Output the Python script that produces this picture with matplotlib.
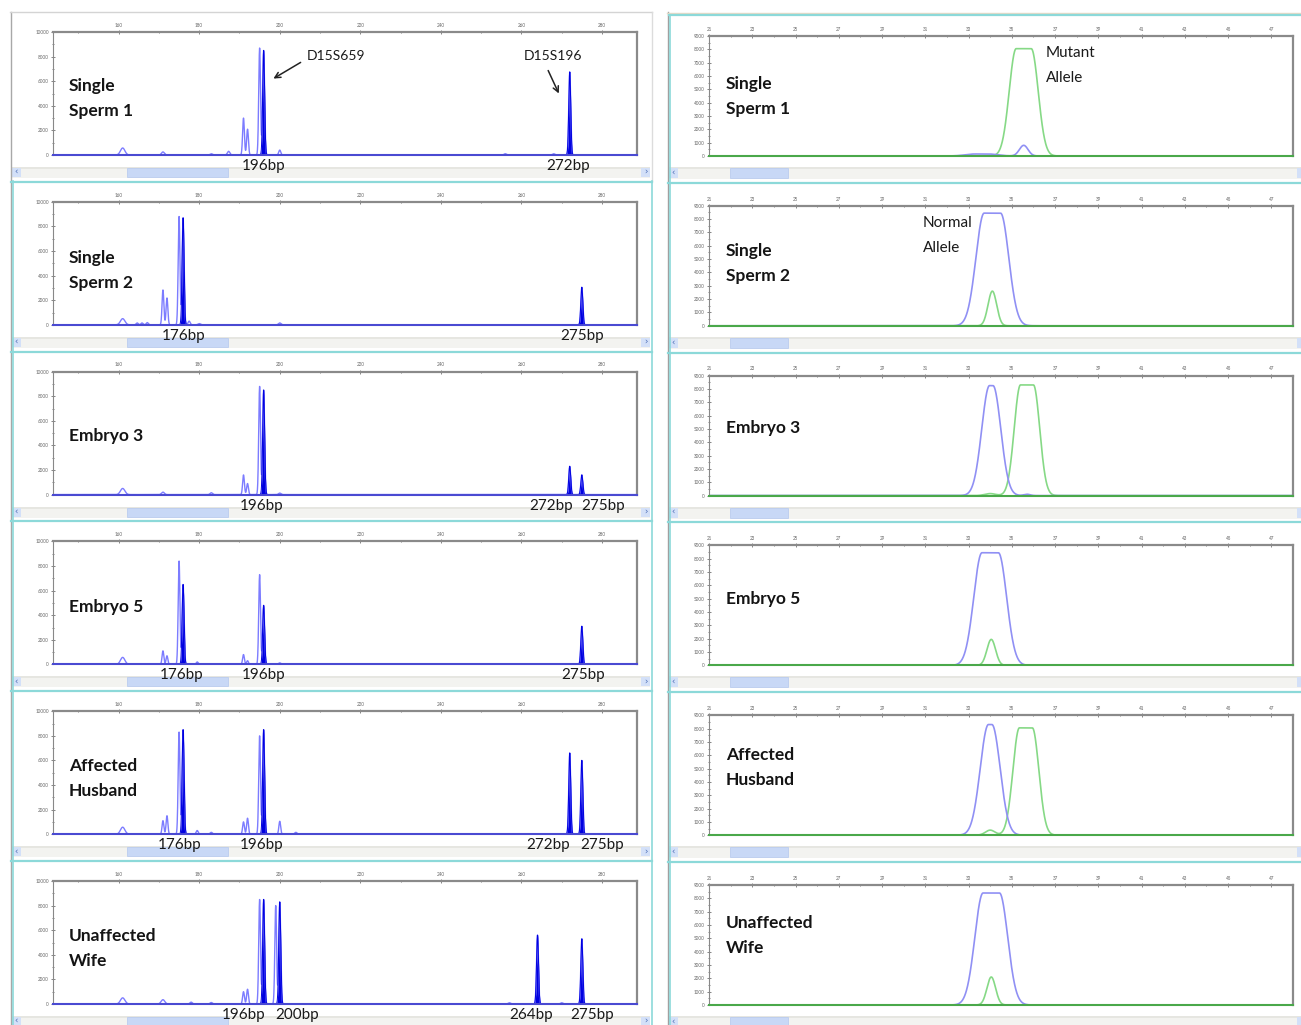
import numpy as np
import matplotlib.pyplot as plt
from matplotlib.patches import Rectangle
from matplotlib.ticker import MultipleLocator

plt.rcParams['font.family'] = ['Lato', 'DejaVu Sans']

# sample names for each row
left_names = ["Single\nSperm 1", "Single\nSperm 2", "Embryo 3", "Embryo 5",
              "Affected\nHusband", "Unaffected\nWife"]
right_names = ["Single\nSperm 1", "Single\nSperm 2", "Embryo 3", "Embryo 5",
               "Affected\nHusband", "Unaffected\nWife"]

# called STR alleles per sample: (size bp, peak height rfu)
str_alleles = [
    [(196, 8500), (272, 6750)],
    [(176, 8700), (275, 3050)],
    [(196, 8500), (272, 2300), (275, 1600)],
    [(176, 6500), (196, 4800), (275, 3100)],
    [(176, 8500), (196, 8500), (272, 6600), (275, 6000)],
    [(196, 8500), (200, 8300), (264, 5600), (275, 5300)],
]

# rest of the raw STR trace: (size bp, height rfu, width bp)
str_trace = [
    [(161, 570, 0.55), (171, 250, 0.35), (183, 100, 0.3), (187.3, 300, 0.3),
     (191, 3000, 0.22), (192, 2100, 0.22), (195, 8700, 0.22), (200, 400, 0.25),
     (256, 100, 0.3), (268, 100, 0.3)],
    [(161, 500, 0.55), (164.6, 150, 0.25), (165.8, 150, 0.25), (167.1, 180, 0.25),
     (171, 2830, 0.22), (172, 2180, 0.22), (175, 8800, 0.22), (177.5, 300, 0.25),
     (180, 100, 0.3), (200, 150, 0.3)],
    [(161, 500, 0.55), (171, 200, 0.35), (183, 150, 0.3), (191, 1600, 0.22),
     (192, 900, 0.22), (195, 8800, 0.22), (200, 120, 0.3)],
    [(161, 570, 0.55), (171, 1100, 0.22), (172, 700, 0.22), (175, 8400, 0.22),
     (179.5, 200, 0.25), (191, 800, 0.22), (192, 300, 0.22), (195, 7300, 0.22),
     (200, 120, 0.3)],
    [(161, 570, 0.55), (171, 1100, 0.22), (172, 1500, 0.22), (175, 8300, 0.22),
     (179.5, 300, 0.25), (183, 150, 0.3), (191, 1000, 0.22), (192, 1300, 0.22),
     (195, 8000, 0.22), (200, 1050, 0.22), (204, 150, 0.3)],
    [(161, 500, 0.55), (171, 350, 0.45), (178, 150, 0.3), (183, 120, 0.3),
     (191, 1000, 0.22), (192, 1200, 0.22), (195, 8500, 0.22), (199, 8000, 0.22),
     (257, 100, 0.3), (270, 100, 0.3)],
]

# SNP melt peaks: (position, height, width, flat top half-width)
snp_blue = [
    [(33.6, 150, 0.45, 0.3), (35.55, 800, 0.2, 0.0)],
    [(34.1, 8450, 0.38, 0.38)],
    [(34.05, 8250, 0.36, 0.08), (35.7, 100, 0.15, 0.0)],
    [(34.0, 8450, 0.38, 0.38)],
    [(34.0, 8300, 0.38, 0.08)],
    [(34.05, 8400, 0.38, 0.38)],
]
snp_green = [
    [(35.55, 8050, 0.32, 0.35)],
    [(34.1, 2600, 0.2, 0.0)],
    [(34.0, 150, 0.25, 0.0), (35.7, 8300, 0.29, 0.3)],
    [(34.05, 1950, 0.2, 0.0)],
    [(34.0, 380, 0.22, 0.0), (35.65, 8050, 0.3, 0.3)],
    [(34.05, 2100, 0.2, 0.0)],
]

# horizontal nudges (px) for the allele size labels
label_nudge = [[0, -2], [1, 0], [-2, -19, 21], [-1, 0, 1], [-3, -2, -22, 20], [-20, 17, -6, 10]]
left_name_y = [86, 258, 436, 607, 766, 936]
right_name_y = [84, 251, 428, 599, 755, 923]

W, H = 1301, 1025
ROW = 169.8
CYAN = '#8cd9d9'


def px_rect(x0, y0, x1, y1):
    return [x0 / W, 1 - y1 / H, (x1 - x0) / W, (y1 - y0) / H]


def peak_shape(x, center, height, width, flat=0.0):
    d = np.maximum(np.abs(x - center) - flat, 0)
    return height * np.exp(-0.5 * (d / width) ** 2)


def style_axes(ax, base_color):
    ax.xaxis.tick_top()
    ax.tick_params(which='both', direction='inout', length=3, width=0.5, color='#555',
                   labelsize=3.3, labelcolor='#666', pad=1.5)
    ax.tick_params(which='minor', length=2)
    ax.spines['left'].set_color('#888')
    ax.spines['left'].set_linewidth(0.8)
    for s in ('top', 'right'):
        ax.spines[s].set_color('#8a8a8a')
        ax.spines[s].set_linewidth(1.6)
    ax.spines['bottom'].set_color(base_color)
    ax.spines['bottom'].set_linewidth(1.5)


fig = plt.figure(figsize=(W / 100, H / 100), dpi=100)
fig.patch.set_facecolor('white')

bg = fig.add_axes([0, 0, 1, 1], zorder=0)
bg.set_xlim(0, W)
bg.set_ylim(H, 0)
bg.axis('off')

fg = fig.add_axes([0, 0, 1, 1], zorder=5)
fg.set_xlim(0, W)
fg.set_ylim(H, 0)
fg.axis('off')
fg.patch.set_visible(False)


def scrollbar(x0, x1, y0, y1, t0, t1):
    bg.add_patch(Rectangle((x0, y0), x1 - x0, y1 - y0, fc='#f3f3f0', ec='none'))
    bg.add_patch(Rectangle((x0, y0), x1 - x0, 2, fc='#e6e6e1', ec='none'))
    bg.add_patch(Rectangle((t0, y0 + 1), t1 - t0, y1 - y0 - 2, fc='#c8d8f6', ec='#b4c8ee', lw=0.5))
    for bx, ch in ((x0, '\u2039'), (x1 - 9, '\u203a')):
        bg.add_patch(Rectangle((bx, y0 + 1), 9, y1 - y0 - 2, fc='#d3e0f8', ec='none'))
        bg.text(bx + 4.5, (y0 + y1) / 2, ch, ha='center', va='center', fontsize=6,
                color='#4a6bb5', family='DejaVu Sans')


# window frames
bg.plot([10.5, 10.5], [12, H], color='#a8a8a8', lw=1)
bg.plot([10, 652], [12, 12], color='#d4d4d4', lw=1)
bg.plot([651.5, 651.5], [12, 181], color='#dcdcdc', lw=1)
bg.plot([651.5, 651.5], [181, H], color=CYAN, lw=1.2)
bg.plot([12.8, 12.8], [181, H], color=CYAN, lw=1.2)
bg.plot([667.5, 667.5], [12, H], color='#a0a0a0', lw=1)
bg.plot([667, W], [12.5, 12.5], color='#e6dac6', lw=1)
bg.plot([669, W], [15, 15], color=CYAN, lw=1.6)
bg.plot([669.8, 669.8], [15, H], color=CYAN, lw=1.2)
for k in range(1, 6):
    bg.plot([11, 652], [12 + k * ROW, 12 + k * ROW], color=CYAN, lw=1.6)
    bg.plot([668, W], [13 + k * ROW, 13 + k * ROW], color=CYAN, lw=1.6)

xs_left = np.linspace(143.7, 288.7, 6000)
xs_right = np.linspace(21, 48, 3000)

for i in range(6):
    off = i * ROW

    # STR electropherogram
    ax = fig.add_axes(px_rect(53, 32 + off, 637, 155 + off), zorder=2)
    ax.set_xlim(143.7, 288.7)
    ax.set_ylim(0, 10000)
    ax.set_xticks(range(160, 281, 20))
    ax.xaxis.set_minor_locator(MultipleLocator(10))
    ax.set_yticks(range(0, 10001, 2000))
    ax.yaxis.set_minor_locator(MultipleLocator(1000))
    style_axes(ax, '#4a4ad2')

    called = np.zeros_like(xs_left)
    for bp, h in str_alleles[i]:
        called += peak_shape(xs_left, bp, h, 0.24)
    raw = called.copy()
    for bp, h, w in str_trace[i]:
        raw += peak_shape(xs_left, bp, h, w)
    ax.plot(xs_left, raw, color='#7c7cff', lw=1.0)
    ax.fill_between(xs_left, 0, called, color='#0000e0', lw=0)
    ax.plot(xs_left, called, color='#0000e0', lw=0.7)

    lines = left_names[i].split('\n')
    y0 = left_name_y[i]
    for j, line in enumerate(lines):
        fg.text(69, y0 + 25 * j, line, ha='left', va='center', fontsize=12.5,
                fontweight='bold', color='#141414')

    for (bp, h), dx in zip(str_alleles[i], label_nudge[i]):
        xpix = 53 + (bp - 143.7) / (288.7 - 143.7) * (637 - 53)
        fg.text(xpix + dx, 166 + off, f'{bp}bp', ha='center', va='center',
                fontsize=11, color='#1a1a1a')

    scrollbar(12, 650, 167 + off, 178 + off, 127, 228)

    # SNP melt curves
    ax = fig.add_axes(px_rect(709, 36 + off, 1293, 156 + off), zorder=2)
    ax.set_xlim(21, 48)
    ax.set_ylim(0, 9000)
    ax.set_xticks(range(21, 48, 2))
    ax.xaxis.set_minor_locator(MultipleLocator(1))
    ax.set_yticks(range(0, 9001, 1000))
    ax.yaxis.set_minor_locator(MultipleLocator(500))
    style_axes(ax, '#4aa84a')

    blue = np.zeros_like(xs_right)
    for c, h, w, f in snp_blue[i]:
        blue += peak_shape(xs_right, c, h, w, f)
    green = np.zeros_like(xs_right)
    for c, h, w, f in snp_green[i]:
        green += peak_shape(xs_right, c, h, w, f)
    ax.plot(xs_right, green, color='#86d986', lw=1.2)
    ax.plot(xs_right, blue, color='#9090f4', lw=1.2)

    lines = right_names[i].split('\n')
    y0 = right_name_y[i]
    for j, line in enumerate(lines):
        fg.text(726, y0 + 25 * j, line, ha='left', va='center', fontsize=12.5,
                fontweight='bold', color='#141414')

    scrollbar(669, 1306, 167 + off, 179 + off, 730, 788)

# marker names and allele callouts
fg.text(307, 56, 'D15S659', ha='left', va='center', fontsize=10, color='#1a1a1a')
fg.annotate('', xy=(271, 80), xytext=(303, 61),
            arrowprops=dict(arrowstyle='->', lw=1.1, color='#222', mutation_scale=10))
fg.text(524, 56, 'D15S196', ha='left', va='center', fontsize=10, color='#1a1a1a')
fg.annotate('', xy=(560, 96), xytext=(547, 68),
            arrowprops=dict(arrowstyle='->', lw=1.1, color='#222', mutation_scale=10))

fg.text(1046, 53, 'Mutant', ha='left', va='center', fontsize=11, color='#1a1a1a')
fg.text(1046, 78, 'Allele', ha='left', va='center', fontsize=11, color='#1a1a1a')
fg.text(923, 223, 'Normal', ha='left', va='center', fontsize=11, color='#1a1a1a')
fg.text(923, 248, 'Allele', ha='left', va='center', fontsize=11, color='#1a1a1a')

fig.savefig('out.png', dpi=100)
